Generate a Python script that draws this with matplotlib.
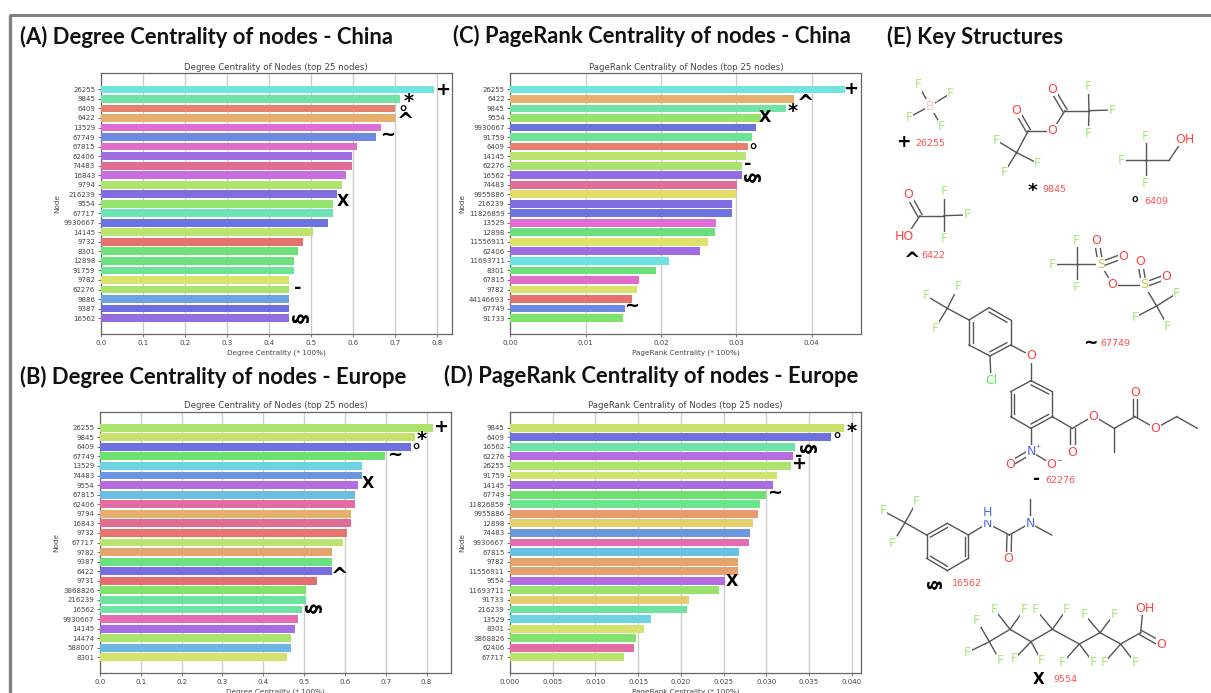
import matplotlib
matplotlib.use('Agg')
import matplotlib.pyplot as plt

W, H = 1211, 693

# (A) degree centrality - China
nodes_a = ['26255', '9845', '6409', '6422', '13529', '67749', '67815', '62406', '74483', '16843',
           '9794', '216239', '9554', '67717', '9930667', '14145', '9732', '8301', '12898', '91759',
           '9782', '62276', '9886', '9387', '16562']
values_a = [0.792, 0.711, 0.699, 0.699, 0.665, 0.653, 0.608, 0.596, 0.596, 0.584,
            0.574, 0.562, 0.551, 0.551, 0.539, 0.505, 0.481, 0.469, 0.460, 0.460,
            0.448, 0.448, 0.448, 0.448, 0.448]
colors_a = ['#6fe5dc', '#72e3a6', '#e5816d', '#e5b06d', '#e06dd5', '#6d8ae0', '#e06dc8', '#a06de0', '#e06d96', '#c86de0',
            '#b0e36d', '#806de0', '#96e36d', '#6de3b8', '#6d72e0', '#bbe36d', '#e5736d', '#6de07a', '#6de07d', '#6de395',
            '#d8e36d', '#a9e36d', '#6da3e0', '#6d6de0', '#966de0']

# (C) pagerank - China
nodes_c = ['26255', '6422', '9845', '9554', '9930667', '91759', '6409', '14145', '62276', '16562',
           '74483', '9955886', '216239', '11826859', '13529', '12898', '11556911', '62406', '11693711', '8301',
           '67815', '9782', '44146693', '67749', '91733']
values_c = [0.0444, 0.0377, 0.0366, 0.0333, 0.0326, 0.0321, 0.0315, 0.0313, 0.0308, 0.0307,
            0.0301, 0.0299, 0.0295, 0.0295, 0.0273, 0.0272, 0.0263, 0.0252, 0.0211, 0.0193,
            0.0171, 0.0168, 0.0162, 0.0152, 0.0150]
colors_c = ['#6fe5dc', '#e5b06d', '#72e3a6', '#96e36d', '#6d72e0', '#6de395', '#e5816d', '#bbe36d', '#a9e36d', '#966de0',
            '#e06d96', '#e3dc6d', '#806de0', '#6d72e0', '#e06dd5', '#6de07d', '#dfe36d', '#a06de0', '#6de3e0', '#6de07a',
            '#e06dc8', '#d8e36d', '#e5736d', '#6d8ae0', '#7de36d']

# (B) degree centrality - Europe
nodes_b = ['26255', '9845', '6409', '67749', '13529', '74483', '9554', '67815', '62406', '9794',
           '16843', '9732', '67717', '9782', '9387', '6422', '9731', '3868826', '216239', '16562',
           '9930667', '14145', '14474', '588007', '8301']
values_b = [0.816, 0.771, 0.761, 0.699, 0.642, 0.642, 0.633, 0.624, 0.624, 0.615,
            0.615, 0.605, 0.595, 0.568, 0.568, 0.568, 0.531, 0.504, 0.504, 0.494,
            0.485, 0.477, 0.468, 0.468, 0.457]
colors_b = ['#ace36d', '#c8e36d', '#6d72e0', '#6de070', '#6dd3e3', '#6d96e0', '#b46de0', '#6dbee3', '#e36da3', '#e5b06d',
            '#e36d90', '#e5756d', '#bbe36d', '#e5a36d', '#6de07f', '#756de0', '#e56d6d', '#80e36d', '#6de3a0', '#6de3a8',
            '#e36db0', '#a86de0', '#ace36d', '#6db8e3', '#d5e36d']

# (D) pagerank - Europe
nodes_d = ['9845', '6409', '16562', '62276', '26255', '91759', '14145', '67749', '11826859', '9955886',
           '12898', '74483', '9930667', '67815', '9782', '11556911', '9554', '11693711', '91733', '216239',
           '13529', '8301', '3868826', '62406', '67717']
values_d = [0.0391, 0.03755, 0.0334, 0.0331, 0.0329, 0.0313, 0.0308, 0.0300, 0.0293, 0.0290,
            0.0284, 0.0281, 0.0280, 0.0268, 0.0267, 0.0267, 0.0252, 0.0245, 0.0209, 0.0207,
            0.0165, 0.0157, 0.0148, 0.0145, 0.0134]
colors_d = ['#c8e36d', '#6d72e0', '#6de3a8', '#b46de0', '#ace36d', '#d0e36d', '#a86de0', '#6de070', '#6de38a', '#e59d6d',
            '#e5cf6d', '#6d96e0', '#e36db0', '#6dbee3', '#e5a36d', '#e5a06d', '#b46de0', '#96e36d', '#e5cd6d', '#6de3a0',
            '#6dd3e3', '#d5e36d', '#80e36d', '#e36da3', '#bbe36d']

ticks_degree = [0.0, 0.1, 0.2, 0.3, 0.4, 0.5, 0.6, 0.7, 0.8]
ticks_pr_china = [0.00, 0.01, 0.02, 0.03, 0.04]
ticks_pr_europe = [0.000, 0.005, 0.010, 0.015, 0.020, 0.025, 0.030, 0.035, 0.040]

DEGREE_TITLE = 'Degree Centrality of Nodes (top 25 nodes)'
PR_TITLE = 'PageRank Centrality of Nodes (top 25 nodes)'
DEGREE_X = 'Degree Centrality (* 100%)'
PR_X = 'PageRank Centrality (* 100%)'

fig = plt.figure(figsize=(W / 100, H / 100), dpi=100)


def bar_panel(box, nodes, values, colors, ticks, fmt, xmax, title, xlabel):
    left, top, right, bottom = box
    ax = fig.add_axes([left / W, 1 - bottom / H, (right - left) / W, (bottom - top) / H])
    ax.barh(range(len(nodes)), values, height=0.82, color=colors, zorder=3)
    ax.set_ylim(25.67, -1.67)
    ax.set_xlim(0, xmax)
    ax.set_yticks(range(len(nodes)))
    ax.set_yticklabels(nodes)
    ax.set_xticks(ticks)
    ax.set_xticklabels([fmt % t for t in ticks])
    ax.tick_params(labelsize=5.0, length=2, width=0.5, pad=2, colors='#444444')
    ax.xaxis.grid(True, color='#cccccc', lw=1, zorder=0)
    for s in ax.spines.values():
        s.set_color('#666666')
        s.set_linewidth(0.9)
    ax.set_title(title, fontsize=6.2, color='#444444', pad=2.5)
    ax.set_xlabel(xlabel, fontsize=5.2, color='#444444', labelpad=2.5)
    ax.set_ylabel('Node', fontsize=5.2, color='#444444', labelpad=2.5)


bar_panel((100.7, 73.5, 451.7, 334), nodes_a, values_a, colors_a, ticks_degree, '%.1f', 0.834, DEGREE_TITLE, DEGREE_X)
bar_panel((510.3, 73.5, 861.3, 334), nodes_c, values_c, colors_c, ticks_pr_china, '%.2f', 0.0466, PR_TITLE, PR_X)
bar_panel((100, 411.7, 450.7, 673.3), nodes_b, values_b, colors_b, ticks_degree, '%.1f', 0.859, DEGREE_TITLE, DEGREE_X)
bar_panel((510, 411.7, 860.7, 673.3), nodes_d, values_d, colors_d, ticks_pr_europe, '%.3f', 0.04105, PR_TITLE, PR_X)

# overlay in picture pixels for headings, symbols and the structures
ov = fig.add_axes([0, 0, 1, 1], zorder=10)
ov.set_xlim(0, W)
ov.set_ylim(H, 0)
ov.axis('off')

ov.plot([10, 10], [15, H], color='#808080', lw=2.4, solid_capstyle='butt')
ov.plot([9, W], [15, 15], color='#808080', lw=2.2, solid_capstyle='butt')

headings = [('(A) Degree Centrality of nodes - China', 20, 37),
            ('(C) PageRank Centrality of nodes - China', 453, 36),
            ('(E) Key Structures', 887, 37),
            ('(B) Degree Centrality of nodes - Europe', 20, 377),
            ('(D) PageRank Centrality of nodes - Europe', 444, 376)]
for txt, x, y in headings:
    ov.text(x, y, txt, fontsize=15.8, fontweight='bold', family='Lato', color='#111111', ha='left', va='center')

# symbols next to the bars
symbols = [('+', 443, 90), ('*', 409, 101), ('°', 403, 115), ('^', 406, 122), ('~', 388, 135), ('X', 343, 202),
           ('-', 298, 288), ('§', 301, 318),
           ('+', 851, 89), ('^', 806, 104), ('*', 793, 111), ('X', 765, 118), ('°', 753, 153), ('-', 748, 164),
           ('§', 753, 177), ('~', 632, 306),
           ('+', 441, 427), ('*', 422, 439), ('°', 416, 453), ('~', 395, 455), ('X', 368, 484), ('^', 340, 577),
           ('§', 314, 608),
           ('*', 852, 431), ('°', 837, 442), ('§', 809, 448), ('-', 799, 456), ('+', 799, 464), ('~', 775, 493),
           ('X', 732, 581)]
symbol_sizes = {'X': 11.5, '+': 13, '*': 14, '°': 13, '^': 15, '~': 13, '-': 13, '§': 14}


def symbol(s, x, y, scale=1.0):
    ov.text(x, y, s, fontsize=symbol_sizes[s] * scale, fontweight='bold', color='black', ha='center', va='center',
            rotation=90 if s == '§' else 0)


for s, x, y in symbols:
    symbol(s, x, y)

# structures, coordinates in 3x zoom units of the right column
BOND = '#555555'
GREEN = '#a5e87a'
RED = '#ff4444'
BLUE = '#5566ee'
YELLOW = '#c8c84a'
PINK = '#f9c6c6'
LIME = '#55ee55'


def zx(x):
    return 870 + x / 3


def zy(y):
    return y / 3


def bond(a, b):
    ov.plot([zx(a[0]), zx(b[0])], [zy(a[1]), zy(b[1])], color=BOND, lw=1.0, zorder=2)


def dbl(a, b, off=7):
    dx, dy = b[0] - a[0], b[1] - a[1]
    n = (dx ** 2 + dy ** 2) ** 0.5
    ox, oy = -dy / n * off, dx / n * off
    bond((a[0] + ox, a[1] + oy), (b[0] + ox, b[1] + oy))
    bond((a[0] - ox, a[1] - oy), (b[0] - ox, b[1] - oy))


def atom(s, p, color):
    ov.text(zx(p[0]), zy(p[1]), s, fontsize=9, color=color, ha='center', va='center', zorder=3,
            bbox=dict(fc='white', ec='none', pad=0.4))


def ring(pts, inner):
    cx = sum(p[0] for p in pts) / len(pts)
    cy = sum(p[1] for p in pts) / len(pts)
    for i in range(len(pts)):
        bond(pts[i], pts[(i + 1) % len(pts)])
    for i in inner:
        a, b = pts[i], pts[(i + 1) % len(pts)]
        ia = (a[0] + (cx - a[0]) * 0.18, a[1] + (cy - a[1]) * 0.18)
        ib = (b[0] + (cx - b[0]) * 0.18, b[1] + (cy - b[1]) * 0.18)
        bond(ia, ib)


def fluorines(center, pts):
    for p in pts:
        bond(center, p)
        atom('F', p, GREEN)


# 26255
fluorines((180, 318), [(145, 255), (242, 280), (117, 352), (215, 380)])
atom('B', (180, 318), PINK)
ov.text(zx(197), zy(303), '−', fontsize=4, color=PINK, ha='center', va='center', zorder=4)

# 9845
fluorines((657, 332), [(655, 260), (727, 330), (655, 400)])
fluorines((440, 458), [(378, 420), (503, 490), (403, 517)])
bond((585, 332), (657, 332))
bond((585, 332), (547, 392))
bond((547, 392), (475, 392))
bond((475, 392), (440, 458))
dbl((585, 332), (547, 268))
dbl((475, 392), (440, 332))
atom('O', (547, 268), RED)
atom('O', (547, 392), RED)
atom('O', (440, 332), RED)

# 6409
fluorines((827, 480), [(827, 408), (755, 480), (827, 550)])
bond((827, 480), (898, 480))
bond((898, 480), (935, 425))
atom('OH', (946, 418), RED)

# 6422
fluorines((222, 647), [(222, 575), (292, 645), (222, 717)])
bond((150, 647), (222, 647))
bond((150, 647), (115, 700))
dbl((150, 647), (115, 585))
atom('O', (115, 585), RED)
atom('HO', (103, 708), RED)

# 67749
fluorines((620, 793), [(620, 720), (548, 793), (620, 862)])
fluorines((860, 918), [(920, 880), (795, 952), (893, 978)])
bond((620, 793), (692, 793))
bond((692, 793), (728, 855))
bond((728, 855), (822, 855))
bond((822, 855), (860, 918))
dbl((692, 793), (680, 722))
dbl((692, 793), (760, 768))
dbl((822, 855), (810, 785))
dbl((822, 855), (890, 830))
atom('S', (692, 793), YELLOW)
atom('S', (822, 855), YELLOW)
atom('O', (680, 722), RED)
atom('O', (760, 768), RED)
atom('O', (728, 855), RED)
atom('O', (810, 785), RED)
atom('O', (890, 830), RED)

# 62276
fluorines((232, 925), [(265, 860), (168, 887), (195, 985)])
bond((232, 925), (297, 960))
ring([(297, 960), (357, 923), (422, 960), (422, 1035), (360, 1068), (297, 1035)], [1, 3, 5])
bond((360, 1068), (363, 1140))
atom('Cl', (363, 1140), LIME)
bond((422, 1035), (483, 1067))
bond((483, 1067), (483, 1142))
atom('O', (483, 1067), RED)
ring([(483, 1142), (547, 1175), (547, 1250), (483, 1285), (422, 1250), (422, 1175)], [0, 2, 4])
bond((547, 1250), (607, 1285))
dbl((607, 1285), (607, 1357))
bond((607, 1285), (670, 1248))
bond((670, 1248), (733, 1285))
bond((733, 1285), (733, 1357))
bond((733, 1285), (795, 1250))
dbl((795, 1250), (795, 1177))
bond((795, 1250), (857, 1285))
bond((857, 1285), (920, 1250))
bond((920, 1250), (982, 1285))
bond((483, 1285), (483, 1355))
dbl((483, 1355), (420, 1392))
bond((483, 1355), (545, 1392))
atom('O', (607, 1357), RED)
atom('O', (670, 1248), RED)
atom('O', (795, 1177), RED)
atom('O', (857, 1285), RED)
atom('N', (483, 1355), BLUE)
atom('O', (420, 1392), RED)
atom('O', (545, 1392), RED)
ov.text(zx(505), zy(1340), '+', fontsize=4.5, color=BOND, ha='center', va='center', zorder=4)
ov.text(zx(568), zy(1378), '−', fontsize=4.5, color=BOND, ha='center', va='center', zorder=4)

# 16562
fluorines((105, 1568), [(140, 1505), (40, 1533), (68, 1630)])
bond((105, 1568), (170, 1605))
ring([(170, 1605), (232, 1570), (295, 1605), (295, 1675), (232, 1712), (170, 1675)], [0, 2, 4])
bond((295, 1605), (352, 1570))
bond((352, 1570), (418, 1605))
dbl((418, 1605), (416, 1677))
bond((418, 1605), (480, 1570))
bond((480, 1570), (480, 1498))
bond((480, 1570), (545, 1605))
atom('N', (352, 1570), BLUE)
atom('H', (352, 1538), BLUE)
atom('N', (480, 1570), BLUE)
atom('O', (416, 1677), RED)

# 9554
chain = [(358, 1925), (420, 1888), (483, 1925), (547, 1888), (628, 1932), (690, 1898), (752, 1932), (812, 1898)]
chain_f = [[(320, 1860), (293, 1957), (390, 1983)], [(373, 1828), (463, 1828)], [(433, 1977), (515, 1983)],
           [(497, 1828), (590, 1828)], [(578, 1988), (670, 1988)], [(642, 1842), (733, 1842)],
           [(703, 1988), (795, 1988)]]
for i in range(len(chain) - 1):
    bond(chain[i], chain[i + 1])
    fluorines(chain[i], chain_f[i])
dbl((812, 1898), (873, 1932))
bond((812, 1898), (818, 1835))
atom('O', (873, 1932), RED)
atom('OH', (825, 1825), RED)

# structure captions
captions = [('+', 100, 425, '26255', 135, 430), ('*', 487, 572, '9845', 517, 568), ('°', 793, 616, '6409', 823, 603),
            ('^', 128, 782, '6422', 155, 768), ('~', 662, 1028, '67749', 690, 1030), ('-', 497, 1438, '62276', 527, 1442),
            ('§', 197, 1752, '16562', 245, 1752), ('X', 507, 2040, '9554', 550, 2040)]
for s, sx, sy, num, nx, ny in captions:
    symbol(s, zx(sx), zy(sy), scale=0.95)
    ov.text(zx(nx), zy(ny), num, fontsize=6.8, color='#ff4d4d', ha='left', va='center')

fig.savefig('out.png', dpi=100)
